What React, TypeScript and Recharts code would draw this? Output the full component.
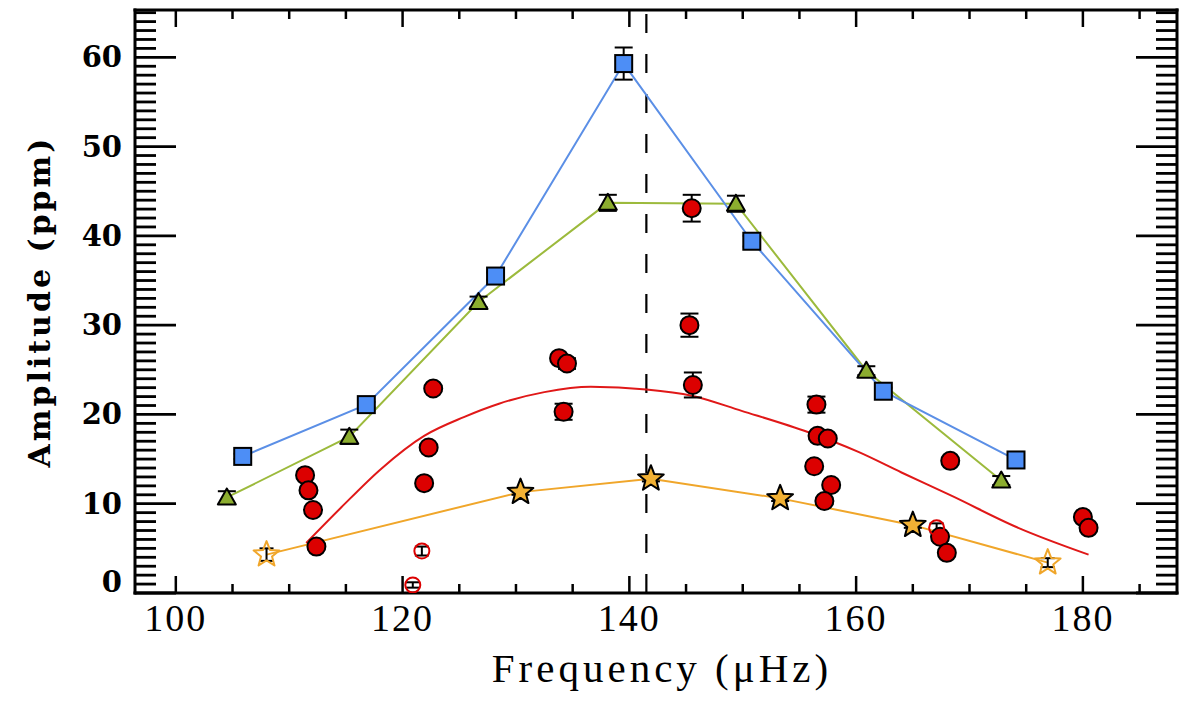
import React from 'react';
import { ComposedChart, XAxis, YAxis, Scatter, Line, ErrorBar, ReferenceLine } from 'recharts';

// ---------- axis ranges & ticks ----------
const X_DOMAIN: [number, number] = [96.4, 188.3];
const Y_DOMAIN: [number, number] = [0, 65.3];
const xTicks = [100, 105, 110, 115, 120, 125, 130, 135, 140, 145, 150, 155, 160, 165, 170, 175, 180, 185];
const xMajor = [100, 120, 140, 160, 180];
const yTicks = [0, 1, 2, 3, 4, 5, 6, 7, 8, 9, 10, 11, 12, 13, 14, 15, 16, 17, 18, 19, 20, 21, 22, 23, 24, 25, 26, 27, 28, 29, 30, 31, 32, 33, 34, 35, 36, 37, 38, 39, 40, 41, 42, 43, 44, 45, 46, 47, 48, 49, 50, 51, 52, 53, 54, 55, 56, 57, 58, 59, 60, 61, 62, 63, 64, 65];
const yMajor = [0, 10, 20, 30, 40, 50, 60];
const DASHED_X = 141.5;

// ---------- data ----------
// blue squares: [frequency, amplitude, error]
const blueSquares = [
  [105.9, 15.3, 0.3], [116.8, 21.1, 0.3], [128.2, 35.5, 0.4], [139.5, 59.3, 1.8],
  [150.8, 39.4, 0.6], [162.4, 22.6, 0.4], [174.1, 14.9, 0.4],
];
// green triangles
const greenTriangles = [
  [104.5, 10.7, 0.7], [115.3, 17.5, 0.8], [126.7, 32.6, 0.6], [138.1, 43.7, 0.9],
  [149.4, 43.6, 0.9], [160.9, 24.9, 0.5], [172.8, 12.6, 0.5],
];
// red filled circles
const redCircles = [
  [111.4, 13.2, 0.3], [111.7, 11.5, 0.3], [112.1, 9.3, 0.3], [112.4, 5.2, 0.3],
  [122.7, 22.9, 0.3], [122.3, 16.3, 0.3], [121.9, 12.3, 0.3],
  [133.8, 26.3, 0.3], [134.5, 25.7, 0.6], [134.2, 20.3, 0.9],
  [145.5, 43.1, 1.5], [145.3, 30.0, 1.3], [145.6, 23.3, 1.4],
  [156.5, 21.1, 0.9], [156.6, 17.6, 0.3], [157.5, 17.3, 0.3], [156.3, 14.2, 0.3],
  [157.8, 12.1, 0.3], [157.2, 10.3, 0.3],
  [168.3, 14.8, 0.3], [167.4, 6.3, 0.4], [168.0, 4.5, 0.3],
  [180.0, 8.5, 0.3], [180.5, 7.3, 0.3],
];
// red open circles
const redOpen = [[121.7, 4.7, 0.5], [120.9, 0.9, 0.3], [167.1, 7.3, 0.5]];
// filled stars
const stars = [[130.4, 11.3, 0.3], [141.9, 12.8, 0.3], [153.3, 10.6, 0.3], [165.0, 7.6, 0.3]];
// open stars
const openStars = [[108.0, 4.3, 0.7], [176.9, 3.4, 0.5]];
// orange connecting line (through all stars)
const orangeF = [108.0, 130.4, 141.9, 153.3, 165.0, 176.9];
const orangeA = [4.3, 11.3, 12.8, 10.6, 7.6, 3.4];
// red smooth fit curve
const redFitF = [111.5, 114.6, 118.1, 121.9, 125.4, 128.5, 132.5, 136.6, 141.5, 145.5, 149.9, 155.8, 160.2, 164.0, 168.4, 174.3, 180.5];
const redFitA = [5.6, 9.6, 13.9, 17.6, 19.7, 21.2, 22.5, 23.1, 22.8, 22.1, 20.4, 18.0, 15.8, 13.5, 10.9, 7.3, 4.3];

const toPts = (arr: number[][]) => arr.map(([f, a, e]) => ({ f, a, e }));
const toLine = (fs: number[], as: number[]) => fs.map((f, i) => ({ f, a: as[i] }));

// ---------- styles ----------
const BLUE = '#4d8ef6';
const BLUE_LINE = '#5b8fe6';
const GREEN = '#8cad2f';
const GREEN_LINE = '#9cba3c';
const RED = '#dc0000';
const RED_LINE = '#e01818';
const GOLD = '#f2b134';
const GOLD_LINE = '#f0a62a';

const W = 1200;
const H = 704;
const PLOT_LEFT = 135;
const PLOT_TOP = 10;
const PLOT_RIGHT = 1177;
const PLOT_BOTTOM = 593;
const Y_AXIS_W = 80;
const X_AXIS_H = 60;
const TOP_AXIS_H = 2;
const RIGHT_AXIS_W = 2;

const Square = (p: any) => (
  <rect x={p.cx - 8.5} y={p.cy - 8.5} width={17} height={17} fill={BLUE} stroke="#000" strokeWidth={2} />
);
const Triangle = (p: any) => (
  <polygon
    points={`${p.cx},${p.cy - 9} ${p.cx - 9},${p.cy + 7} ${p.cx + 9},${p.cy + 7}`}
    fill={GREEN}
    stroke="#000"
    strokeWidth={2}
    strokeLinejoin="round"
  />
);
const Dot = (p: any) => <circle cx={p.cx} cy={p.cy} r={9} fill={RED} stroke="#000" strokeWidth={2} />;
const OpenDot = (p: any) => <circle cx={p.cx} cy={p.cy} r={7.5} fill="none" stroke={RED} strokeWidth={2} />;
const starPts = (cx: number, cy: number, R: number, r: number) => {
  const pts: string[] = [];
  for (let i = 0; i < 10; i++) {
    const ang = -Math.PI / 2 + (i * Math.PI) / 5;
    const rad = i % 2 === 0 ? R : r;
    pts.push(`${cx + rad * Math.cos(ang)},${cy + rad * Math.sin(ang)}`);
  }
  return pts.join(' ');
};
const Star = (p: any) => (
  <polygon points={starPts(p.cx, p.cy, 13.5, 5.8)} fill={GOLD} stroke="#000" strokeWidth={2} strokeLinejoin="round" />
);
const OpenStar = (p: any) => (
  <polygon points={starPts(p.cx, p.cy, 13.5, 5.8)} fill="none" stroke={GOLD_LINE} strokeWidth={2} strokeLinejoin="round" />
);

// ---------- ticks ----------
const BottomTick = (p: any) => {
  const v = p.payload.value;
  const major = xMajor.includes(v);
  return (
    <g>
      <line x1={p.x} y1={p.y} x2={p.x} y2={p.y - (major ? 17 : 9)} stroke="#000" strokeWidth={2.5} />
      {major && (
        <text
          x={p.x}
          y={p.y + 38}
          textAnchor="middle"
          fontFamily="'Liberation Serif', serif"
          fontSize={38}
          letterSpacing={2}
          fill="#000"
        >
          {v}
        </text>
      )}
    </g>
  );
};
const TopTick = (p: any) => {
  const v = p.payload.value;
  const major = xMajor.includes(v);
  return <line x1={p.x} y1={PLOT_TOP} x2={p.x} y2={PLOT_TOP + (major ? 17 : 9)} stroke="#000" strokeWidth={2.5} />;
};
const LeftTick = (p: any) => {
  const v = p.payload.value;
  const major = yMajor.includes(v);
  return (
    <g>
      <line x1={p.x} y1={p.y} x2={p.x + (major ? 41 : 21)} y2={p.y} stroke="#000" strokeWidth={2.8} />
      {major && (
        <text
          x={p.x - 13}
          y={p.y + (v === 0 ? -11 : 0) + 10}
          textAnchor="end"
          fontFamily="'DejaVu Serif', serif"
          fontWeight="bold"
          fontSize={29}
          fill="#000"
        >
          {v}
        </text>
      )}
    </g>
  );
};
const RightTick = (p: any) => {
  const v = p.payload.value;
  const major = yMajor.includes(v);
  return <line x1={PLOT_RIGHT} y1={p.y} x2={PLOT_RIGHT - (major ? 41 : 21)} y2={p.y} stroke="#000" strokeWidth={2.8} />;
};

const XTitle = () => (
  <text
    x={(PLOT_LEFT + PLOT_RIGHT) / 2 + 6}
    y={682}
    textAnchor="middle"
    fontFamily="'Liberation Serif', serif"
    fontSize={41}
    letterSpacing={4}
    fill="#000"
  >
    Frequency (μHz)
  </text>
);
const YTitle = () => {
  const cx = 50;
  const cy = (PLOT_TOP + PLOT_BOTTOM) / 2;
  return (
    <text
      x={cx}
      y={cy}
      transform={`rotate(-90, ${cx}, ${cy})`}
      textAnchor="middle"
      fontFamily="'DejaVu Serif', serif"
      fontWeight="bold"
      fontSize={30}
      letterSpacing={3}
      fill="#000"
    >
      Amplitude (ppm)
    </text>
  );
};

const axisLine = { stroke: '#000', strokeWidth: 3, strokeLinecap: 'square' as const };

export default function App() {
  return (
    <div style={{ position: 'absolute', left: 0, top: 0, width: W, height: H, background: '#fff' }}>
      <ComposedChart
        width={W}
        height={H}
        margin={{
          top: PLOT_TOP - TOP_AXIS_H,
          right: W - PLOT_RIGHT - RIGHT_AXIS_W,
          bottom: H - PLOT_BOTTOM - X_AXIS_H,
          left: PLOT_LEFT - Y_AXIS_W,
        }}
      >
        <XAxis
          xAxisId={0}
          dataKey="f"
          type="number"
          domain={X_DOMAIN}
          allowDataOverflow
          ticks={xTicks}
          interval={0}
          height={X_AXIS_H}
          tickSize={0}
          tickMargin={0}
          tickLine={false}
          axisLine={axisLine}
          tick={<BottomTick />}
          label={{ content: () => <XTitle /> }}
        />
        <XAxis
          xAxisId="top"
          orientation="top"
          dataKey="f"
          type="number"
          domain={X_DOMAIN}
          allowDataOverflow
          ticks={xTicks}
          interval={0}
          height={TOP_AXIS_H}
          tickSize={0}
          tickMargin={0}
          tickLine={false}
          axisLine={axisLine}
          tick={<TopTick />}
        />
        <YAxis
          yAxisId={0}
          type="number"
          domain={Y_DOMAIN}
          allowDataOverflow
          ticks={yTicks}
          interval={0}
          width={Y_AXIS_W}
          tickSize={0}
          tickMargin={0}
          tickLine={false}
          axisLine={axisLine}
          tick={<LeftTick />}
          label={{ content: () => <YTitle /> }}
        />
        <YAxis
          yAxisId="right"
          orientation="right"
          type="number"
          domain={Y_DOMAIN}
          allowDataOverflow
          ticks={yTicks}
          interval={0}
          width={RIGHT_AXIS_W}
          tickSize={0}
          tickMargin={0}
          tickLine={false}
          axisLine={axisLine}
          tick={<RightTick />}
        />

        <ReferenceLine x={DASHED_X} stroke="#000" strokeWidth={2.2} strokeDasharray="19 21" />

        <Line data={toLine(redFitF, redFitA)} dataKey="a" type="monotone" stroke={RED_LINE} strokeWidth={2} dot={false} isAnimationActive={false} />
        <Line data={toLine(orangeF, orangeA)} dataKey="a" type="linear" stroke={GOLD_LINE} strokeWidth={2} dot={false} isAnimationActive={false} />
        <Line data={toPts(greenTriangles)} dataKey="a" type="linear" stroke={GREEN_LINE} strokeWidth={2} dot={false} isAnimationActive={false} />
        <Line data={toPts(blueSquares)} dataKey="a" type="linear" stroke={BLUE_LINE} strokeWidth={2} dot={false} isAnimationActive={false} />

        <Scatter data={toPts(redCircles)} dataKey="a" shape={Dot} isAnimationActive={false}>
          <ErrorBar dataKey="e" direction="y" width={9} stroke="#000" strokeWidth={2} />
        </Scatter>
        <Scatter data={toPts(redOpen)} dataKey="a" shape={OpenDot} isAnimationActive={false}>
          <ErrorBar dataKey="e" direction="y" width={7} stroke="#000" strokeWidth={2} />
        </Scatter>
        <Scatter data={toPts(greenTriangles)} dataKey="a" shape={Triangle} isAnimationActive={false}>
          <ErrorBar dataKey="e" direction="y" width={9} stroke="#000" strokeWidth={2} />
        </Scatter>
        <Scatter data={toPts(blueSquares)} dataKey="a" shape={Square} isAnimationActive={false}>
          <ErrorBar dataKey="e" direction="y" width={9} stroke="#000" strokeWidth={2} />
        </Scatter>
        <Scatter data={toPts(stars)} dataKey="a" shape={Star} isAnimationActive={false}>
          <ErrorBar dataKey="e" direction="y" width={9} stroke="#000" strokeWidth={2} />
        </Scatter>
        <Scatter data={toPts(openStars)} dataKey="a" shape={OpenStar} isAnimationActive={false}>
          <ErrorBar dataKey="e" direction="y" width={7} stroke="#000" strokeWidth={2} />
        </Scatter>
      </ComposedChart>
    </div>
  );
}
